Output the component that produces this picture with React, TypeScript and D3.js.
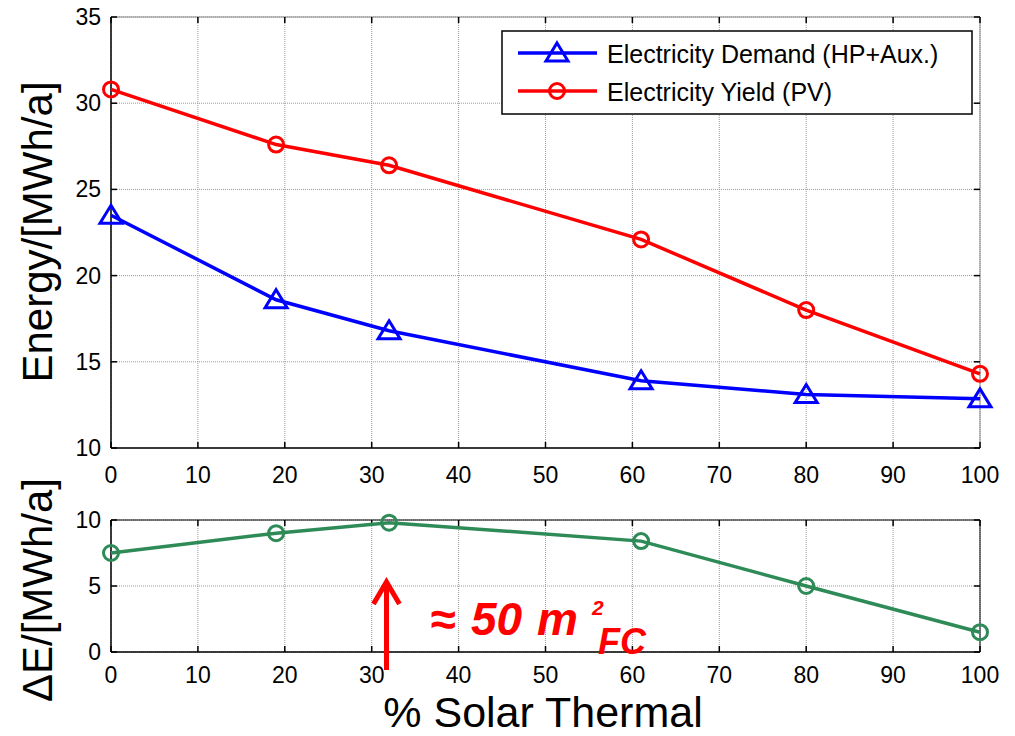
import React from 'react';
import * as d3 from 'd3';

const xValues = [0, 19, 32, 61, 80, 100];
const demandValues = [23.5, 18.6, 16.8, 13.9, 13.1, 12.85];
const yieldValues = [30.8, 27.6, 26.4, 22.1, 18.0, 14.3];
const deltaValues = [7.5, 9.0, 9.8, 8.4, 5.0, 1.5];
const xTicks = [0, 10, 20, 30, 40, 50, 60, 70, 80, 90, 100];
const topYTicks = [10, 15, 20, 25, 30, 35];
const bottomYTicks = [0, 5, 10];
const seriesNames = ['Electricity Demand (HP+Aux.)', 'Electricity Yield (PV)'];
const arrowX = 31.7;

const FONT = 'Liberation Sans, Arial, Helvetica, sans-serif';
const BLUE = '#0000ff';
const RED = '#ff0000';
const GREEN = '#2e8b57';

const L = 111, R = 980;
const x = d3.scaleLinear().domain([0, 100]).range([L, R]);
const yTop = d3.scaleLinear().domain([10, 35]).range([448, 17]);
const yBot = d3.scaleLinear().domain([0, 10]).range([652, 520]);

const triPath = 'M0,-10 L11,8 L-11,8 Z';

function Panel({ y, yTicks, bottomLabelY, boxColor }: any) {
  const [y0, y1] = y.range();
  const tickLen = 6;
  return (
    <g>
      {xTicks.map((t) => (
        <line key={'gx' + t} x1={x(t)} x2={x(t)} y1={y1} y2={y0} stroke="#999" strokeWidth={1} strokeDasharray="1,1" />
      ))}
      {yTicks.map((t: number) => (
        <line key={'gy' + t} x1={L} x2={R} y1={y(t)} y2={y(t)} stroke="#999" strokeWidth={1} strokeDasharray="1,1" />
      ))}
      <line x1={L} x2={R} y1={y1} y2={y1} stroke={boxColor} strokeWidth={1} />
      <line x1={R} x2={R} y1={y1} y2={y0} stroke={boxColor} strokeWidth={1} />
      <line x1={L} x2={R} y1={y0} y2={y0} stroke="#000" strokeWidth={1.5} />
      <line x1={L} x2={L} y1={y1} y2={y0} stroke="#000" strokeWidth={1.5} />
      {xTicks.map((t) => (
        <g key={'tx' + t}>
          <line x1={x(t)} x2={x(t)} y1={y0} y2={y0 - tickLen} stroke="#000" strokeWidth={1.5} />
          <line x1={x(t)} x2={x(t)} y1={y1} y2={y1 + tickLen} stroke="#000" strokeWidth={1.5} />
          <text x={x(t)} y={bottomLabelY} textAnchor="middle" fontSize={23} fontFamily={FONT} fill="#000">{t}</text>
        </g>
      ))}
      {yTicks.map((t: number) => (
        <g key={'ty' + t}>
          <line x1={L} x2={L + tickLen} y1={y(t)} y2={y(t)} stroke="#000" strokeWidth={1.5} />
          <line x1={R} x2={R - tickLen} y1={y(t)} y2={y(t)} stroke="#000" strokeWidth={1.5} />
          <text x={101} y={y(t) + 8} textAnchor="end" fontSize={23} fontFamily={FONT} fill="#000">{t}</text>
        </g>
      ))}
    </g>
  );
}

export default function App() {
  const lineTop = (vals: number[]) =>
    d3.line<number>().x((_, i) => x(xValues[i])).y((v) => yTop(v))(vals) as string;
  const lineBot = d3.line<number>().x((_, i) => x(xValues[i])).y((v) => yBot(v))(deltaValues) as string;
  const ax = x(arrowX);
  return (
    <svg width={1015} height={736} style={{ position: 'absolute', left: 0, top: 0, background: '#fff' }}>
      <rect x={0} y={0} width={1015} height={736} fill="#fff" />
      <Panel y={yTop} yTicks={topYTicks} bottomLabelY={483} boxColor="#888" />
      <Panel y={yBot} yTicks={bottomYTicks} bottomLabelY={683} boxColor="#000" />

      <path d={lineTop(demandValues)} fill="none" stroke={BLUE} strokeWidth={3.5} />
      <path d={lineTop(yieldValues)} fill="none" stroke={RED} strokeWidth={3.5} />
      {demandValues.map((v, i) => (
        <path key={'d' + i} d={triPath} transform={`translate(${x(xValues[i])},${yTop(v)})`} fill="none" stroke={BLUE} strokeWidth={3} />
      ))}
      {yieldValues.map((v, i) => (
        <circle key={'y' + i} cx={x(xValues[i])} cy={yTop(v)} r={7.5} fill="none" stroke={RED} strokeWidth={3} />
      ))}

      <path d={lineBot} fill="none" stroke={GREEN} strokeWidth={3.5} />
      {deltaValues.map((v, i) => (
        <circle key={'g' + i} cx={x(xValues[i])} cy={yBot(v)} r={7.5} fill="none" stroke={GREEN} strokeWidth={3} />
      ))}

      <rect x={502} y={31} width={470} height={83} fill="#fff" stroke="#000" strokeWidth={1.5} />
      <line x1={518} x2={597} y1={53} y2={53} stroke={BLUE} strokeWidth={3.5} />
      <path d={triPath} transform="translate(557,53)" fill="none" stroke={BLUE} strokeWidth={3} />
      <text x={607} y={63} fontSize={25} fontFamily={FONT} fill="#000">{seriesNames[0]}</text>
      <line x1={518} x2={597} y1={91} y2={91} stroke={RED} strokeWidth={3.5} />
      <circle cx={557} cy={91} r={7.5} fill="none" stroke={RED} strokeWidth={3} />
      <text x={607} y={101} fontSize={25} fontFamily={FONT} fill="#000">{seriesNames[1]}</text>

      <line x1={ax} x2={ax} y1={670} y2={584} stroke={RED} strokeWidth={5} />
      <polyline points={`${ax - 13},${604} ${ax},${582} ${ax + 13},${604}`} fill="none" stroke={RED} strokeWidth={5} />
      <g fontFamily={FONT} fontWeight="bold" fontStyle="italic" fill={RED}>
        <text x={430} y={635} fontSize={46}>≈</text>
        <text x={471} y={635} fontSize={46}>50</text>
        <text x={537} y={635} fontSize={46}>m</text>
        <text x={592} y={615} fontSize={21}>2</text>
        <text x={598} y={654} fontSize={36}>FC</text>
      </g>

      <text transform="translate(52,232) rotate(-90)" textAnchor="middle" fontSize={42} fontFamily={FONT} fill="#000">Energy/[MWh/a]</text>
      <text transform="translate(52,590) rotate(-90)" textAnchor="middle" fontSize={42} fontFamily={FONT} fill="#000">ΔE/[MWh/a]</text>
      <text x={543} y={727} textAnchor="middle" fontSize={43} fontFamily={FONT} fill="#000">% Solar Thermal</text>
    </svg>
  );
}
